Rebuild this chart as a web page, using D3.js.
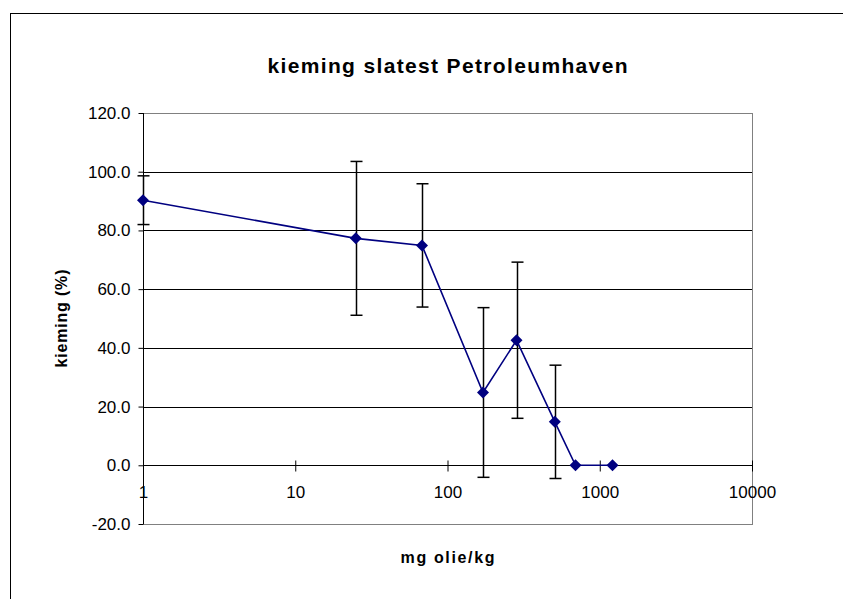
<!DOCTYPE html>
<html><head><meta charset="utf-8">
<script src="https://cdn.jsdelivr.net/npm/d3@7"></script>
<style>html,body{margin:0;padding:0;background:#fff;}svg{display:block;font-family:"Liberation Sans",Arial,sans-serif;}</style>
</head><body>
<svg id="c" width="843" height="599"></svg>
<script>
const title = "kieming slatest Petroleumhaven";
const xTitle = "mg olie/kg";
const yTitle = "kieming (%)";
const concentrations = [1, 25, 68, 171, 284, 507, 693, 1213];
const germination = [90.3, 77.3, 74.9, 24.8, 42.6, 14.8, 0, 0];
const errors = [8.3, 26.2, 21.0, 28.9, 26.6, 19.3, 0, 0];
const xTicks = [1, 10, 100, 1000, 10000];
const yTicks = [-20, 0, 20, 40, 60, 80, 100, 120];

const svg = d3.select("#c");
const L = 143, R = 752, T = 113, B = 524;
const x = d3.scaleLog().domain([1, 10000]).range([L, R]);
const y = d3.scaleLinear().domain([-20, 120]).range([B, T]);

// outer chart border
svg.append("rect").attr("x", 10.5).attr("y", 13.5).attr("width", 900).attr("height", 700)
  .attr("fill", "none").attr("stroke", "#000").attr("stroke-width", 1);

// gridlines
svg.append("g").selectAll("line").data(yTicks.filter(d => d > -20 && d < 120)).join("line")
  .attr("x1", L).attr("x2", R)
  .attr("y1", d => Math.round(y(d)) + 0.5).attr("y2", d => Math.round(y(d)) + 0.5)
  .attr("stroke", "#000").attr("stroke-width", 1);

// plot border (grey)
svg.append("rect").attr("x", L + 0.5).attr("y", Math.round(T) + 0.5)
  .attr("width", R - L).attr("height", B - T)
  .attr("fill", "none").attr("stroke", "#808080").attr("stroke-width", 1);

// y axis
const yAxis = d3.axisLeft(y).tickValues(yTicks).tickSize(5).tickPadding(8).tickFormat(d3.format(".1f"));
const gy = svg.append("g").attr("transform", `translate(${L + 0.5},0)`).call(yAxis);
gy.select(".domain").attr("stroke", "#000").attr("d", `M0,${T}V${B}`);
gy.selectAll(".tick line").attr("stroke", "#000");
gy.selectAll(".tick text").attr("font-size", 17).attr("fill", "#000")
  .attr("font-family", "'Liberation Sans', Arial, sans-serif").text(d => d3.format(".1f")(d).replace("−", "-"));

// x axis at y=0, ticks crossing
const y0 = Math.round(y(0)) + 0.5;
const xAxis = d3.axisBottom(x).tickValues(xTicks).tickSize(0).tickFormat(d3.format("d"));
const gx = svg.append("g").attr("transform", `translate(0,${y0})`).call(xAxis);
gx.select(".domain").attr("stroke", "#000").attr("d", `M${L},0H${R}`);
gx.selectAll(".tick line").attr("y1", -5).attr("y2", 6).attr("stroke", "#000");
gx.selectAll(".tick text").attr("font-size", 17).attr("fill", "#000").attr("dy", 0)
  .attr("y", 32).attr("font-family", "'Liberation Sans', Arial, sans-serif");

// error bars
const eb = svg.append("g");
concentrations.forEach((c, i) => {
  if (!errors[i]) return;
  const cx = Math.round(x(c)) + 0.5;
  const top = y(germination[i] + errors[i]), bot = y(germination[i] - errors[i]);
  eb.append("line").attr("x1", cx).attr("x2", cx).attr("y1", top).attr("y2", bot)
    .attr("stroke", "#000").attr("stroke-width", 1.5);
  [top, bot].forEach(v => eb.append("line").attr("x1", cx - 6).attr("x2", cx + 6)
    .attr("y1", v).attr("y2", v).attr("stroke", "#000").attr("stroke-width", 1.5));
});

// line
const pts = concentrations.map((c, i) => [c, germination[i]]);
svg.append("path").datum(pts)
  .attr("d", d3.line().x(d => x(d[0])).y(d => y(d[1])))
  .attr("fill", "none").attr("stroke", "#000080").attr("stroke-width", 1.6);

// diamonds
svg.append("g").selectAll("path").data(pts).join("path")
  .attr("transform", d => `translate(${x(d[0])},${y(d[1])})`)
  .attr("d", "M0,-6L6,0L0,6L-6,0Z").attr("fill", "#000080");

// titles
svg.append("text").attr("x", (L + R) / 2).attr("y", 73).attr("text-anchor", "middle")
  .attr("font-size", 21).attr("font-weight", "bold").attr("textLength", 360).attr("lengthAdjust", "spacing")
  .text(title);
svg.append("text").attr("x", (L + R) / 2).attr("y", 563).attr("text-anchor", "middle")
  .attr("font-size", 16).attr("font-weight", "bold").attr("textLength", 94).attr("lengthAdjust", "spacing")
  .text(xTitle);
svg.append("text").attr("transform", `translate(67,${(T + B) / 2}) rotate(-90)`).attr("text-anchor", "middle")
  .attr("font-size", 16).attr("font-weight", "bold").attr("textLength", 98).attr("lengthAdjust", "spacing")
  .text(yTitle);
</script>
</body></html>
